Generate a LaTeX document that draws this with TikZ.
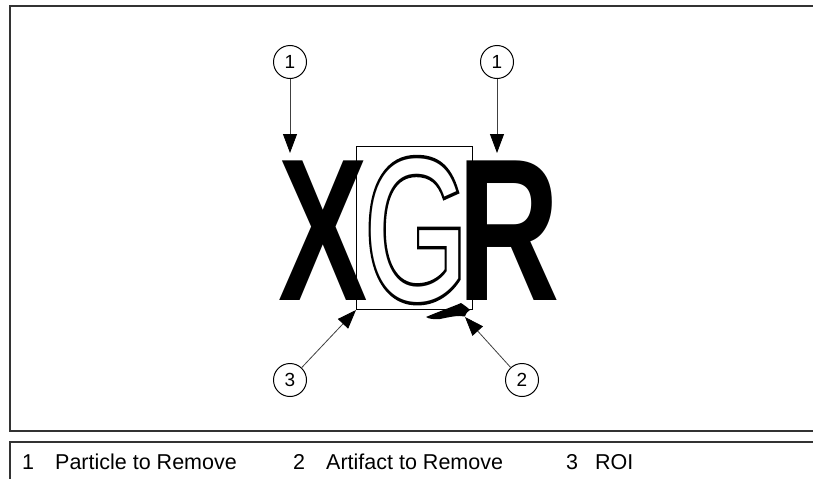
\documentclass[tikz,border=0pt]{standalone}
\usepackage{fontspec}
\setmainfont{Liberation Sans}
\newfontfamily\gstroke[FakeBold=3.4]{Liberation Sans}
\usetikzlibrary{arrows.meta}
\tikzset{
  callout/.style={circle, draw, line width=1pt, minimum size=33pt, inner sep=0pt, font=\fontsize{19}{19}\selectfont},
  pointer/.style={draw=black!75, line width=0.8pt, -{Triangle[length=19pt,width=14pt,color=black]}},
  bigletter/.style={inner sep=0pt, anchor=base west, font=\fontsize{203}{203}\selectfont, xscale=0.66},
  legendtext/.style={inner sep=0pt, anchor=base west, font=\fontsize{21.5}{21.5}\selectfont}
}
\begin{document}
\begin{tikzpicture}[x=1pt,y=-1pt]
\useasboundingbox (0,0) rectangle (813,479);
\fill[white] (0,0) rectangle (813,479);
% frames
\draw[line width=1.2pt, black!80] (813,6) -- (10,6) -- (10,431) -- (813,431);
\draw[line width=1.2pt, black!80] (813,442) -- (10,442) -- (10,479);
% letters
\node[bigletter, font=\fontsize{203}{203}\bfseries\selectfont] (X) at (278,300) {X};
\node[bigletter, font=\fontsize{203}{203}\gstroke] (Gout) at (364,300) {G};
\node[bigletter, text=white] (G) at (364,300) {G};
\node[bigletter, xscale=1.06, font=\fontsize{203}{203}\bfseries\selectfont] (R) at (457,300) {R};
% ROI
\draw[line width=1pt] (356,146) rectangle (472,309);
\coordinate (roi) at (356,310);
% artifact
\fill (426,317) .. controls (440,311) and (452,307) .. (461,303)
  .. controls (464,305) and (467,307) .. (470,310)
  .. controls (468,311) and (466,313) .. (465,316.5)
  .. controls (458,315) and (450,317) .. (440,319)
  .. controls (434,319.5) and (429,319) .. (426,317) -- cycle;
\coordinate (art) at (465,317);
% callouts
\node[callout] (c1a) at (290,62) {1};
\node[callout] (c1b) at (497,62) {1};
\node[callout] (c3) at (290,380) {3};
\node[callout] (c2) at (522,380) {2};
\coordinate (tX) at (290,153);
\coordinate (tR) at (497,153);
\draw[pointer] (c1a) -- (tX);
\draw[pointer] (c1b) -- (tR);
\draw[pointer] (c3) -- (roi);
\draw[pointer] (c2) -- (art);
% legend
\node[legendtext] (l1) at (22,469) {1};
\node[legendtext] (l1t) at (55,469) {Particle to Remove};
\node[legendtext] (l2) at (293,469) {2};
\node[legendtext] (l2t) at (326,469) {Artifact to Remove};
\node[legendtext] (l3) at (566,469) {3};
\node[legendtext] (l3t) at (595,469) {ROI};
\end{tikzpicture}
\end{document}
